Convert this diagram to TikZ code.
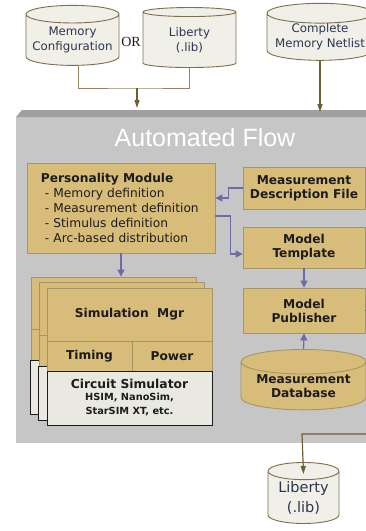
\documentclass[tikz,border=0pt]{standalone}
\usepackage{fontspec}
\setmainfont{DejaVu Sans}
\newfontfamily\titlefont{Liberation Sans}
\newfontfamily\orfont{Liberation Serif}
\usetikzlibrary{arrows.meta,positioning,calc,shapes.geometric}
\definecolor{cGrey}{HTML}{C6C6C6}
\definecolor{cBevel}{HTML}{A0A0A0}
\definecolor{cTan}{HTML}{D8BC7A}
\definecolor{cTanLine}{HTML}{A69568}
\definecolor{cCyl}{HTML}{F1F0E8}
\definecolor{cCylLine}{HTML}{7D6E4E}
\definecolor{cFlow}{HTML}{6B6BA8}
\definecolor{cFeed}{HTML}{6E5E34}
\definecolor{cBracket}{HTML}{948462}
\definecolor{cBase}{HTML}{E9E9E1}
\definecolor{cInk}{HTML}{1C1C1C}
\definecolor{cCylInk}{HTML}{2B3550}
\tikzset{
  flowarea/.style={rectangle,fill=cGrey,inner sep=0pt,minimum width=380,minimum height=326},
  cyl/.style={cylinder,shape border rotate=90,draw=cCylLine,fill=cCyl,line width=0.9pt,
              align=center,inner sep=0pt,text=cCylInk,font=\fontsize{11.8}{15}\selectfont},
  dbcyl/.style={cyl,fill=cTan,draw=cTanLine,text=cInk,font=\bfseries\fontsize{12.2}{14}\selectfont},
  tanbox/.style={rectangle,draw=cTanLine,fill=cTan,line width=0.8pt,align=center,inner sep=0pt,
                 text=cInk,font=\bfseries\fontsize{12.2}{14}\selectfont},
  basebox/.style={rectangle,draw=cInk,fill=cBase,line width=0.8pt,align=center,inner sep=0pt,text=cInk},
  layer/.style={tanbox,minimum width=165,minimum height=137},
  flowar/.style={-{Triangle[width=7pt,length=7pt]},draw=cFlow,line width=1.3pt},
  feedar/.style={-{Triangle[width=5pt,length=8pt]},draw=cFeed,line width=1.2pt},
  bracket/.style={draw=cBracket,line width=1pt},
}

\begin{document}
\begin{tikzpicture}[x=1pt,y=-1pt]
\useasboundingbox (0,0) rectangle (366,531);
\clip (0,0) rectangle (366,531);

% automated flow area
\node[flowarea,anchor=north west] (flow) at (16,117) {};
\fill[cBevel] (flow.north west) -- ++(6,-7) -- ($(flow.north east)+(0,-7)$) -- (flow.north east) -- cycle;
\node[text=white,font=\titlefont\fontsize{25}{28}\selectfont] (title) at (205,138) {Automated Flow};

% inputs
\node[cyl,minimum width=93,minimum height=60,aspect=0.22] (memcfg) at (72.5,40) {Memory\\Configuration};
\node[cyl,minimum width=93,minimum height=60,aspect=0.22] (libin) at (189.5,40) {Liberty\\(.lib)};
\node[text=cInk,font=\orfont\fontsize{14}{16}\selectfont] (or) at (131,42) {OR};
\node[cyl,minimum width=106,minimum height=57,aspect=0.22] (netlist) at (320,37) {Complete\\Memory Netlist};
\coordinate (orjoin) at (137,88);
\draw[bracket] ([xshift=5.5pt]memcfg.south) |- (orjoin) -| (libin.south);
\draw[feedar] (orjoin) -- ($(orjoin |- flow.north)+(0,-9)$);
\draw[feedar] (netlist.south) -- ($(netlist.south |- flow.north)+(0,-5)$);

% personality module and model boxes
\node[tanbox,minimum width=188,minimum height=90,text width=160,align=left,
      font=\fontsize{12.2}{15}\selectfont] (pers) at (121,208)
  {\textbf{Personality Module}\\
   \hspace*{4pt}- Memory definition\\
   \hspace*{4pt}- Measurement definition\\
   \hspace*{4pt}- Stimulus definition\\
   \hspace*{4pt}- Arc-based distribution};
\node[tanbox,minimum width=122,minimum height=42] (mdf) at (304,188) {Measurement\\Description File};
\node[tanbox,minimum width=122,minimum height=41] (tmpl) at (304,247.5) {Model\\Template};
\node[tanbox,minimum width=122,minimum height=45] (pub) at (304,310.5) {Model\\Publisher};
\node[dbcyl,minimum width=125,minimum height=58,aspect=0.26] (db) at (303.5,386) {Measurement\\Database};

% simulation stack
\foreach \dx/\dy/\nm in {16/11/stackc,8/5.5/stackb}{
  \node[layer] (\nm) at (129.5-\dx,356.5-\dy) {};
  \draw[cTanLine,line width=0.8pt] ($(\nm.north west)+(0,53)$) -- ++(165,0);
  \draw[draw=cInk,fill=cBase,line width=0.8pt] ($(\nm.south west)+(0,-54)$) rectangle (\nm.south east);
}
\node[tanbox,minimum width=165,minimum height=53] (simmgr) at (129.5,314.5) {Simulation\ \ Mgr};
\node[tanbox,minimum width=85,minimum height=30] (timing) at (89.5,356) {Timing};
\node[tanbox,minimum width=80,minimum height=30] (power) at (172,356) {Power};
\node[basebox,minimum width=165,minimum height=54,font=\bfseries\fontsize{12.3}{14}\selectfont] (circsim) at (129.5,398)
  {Circuit Simulator\\[-2pt]
   \fontsize{9.8}{11.5}\selectfont HSIM, NanoSim,\\
   \fontsize{9.8}{11.5}\selectfont StarSIM XT, etc.};

% liberty output
\node[cyl,minimum width=71,minimum height=61,aspect=0.34,font=\fontsize{14.5}{20}\selectfont] (libout) at (303.5,497.5) {Liberty\\(.lib)};

% flow connectors
\draw[flowar] (pers.south) -- (pers.south |- stackc.north);
\draw[flowar] (mdf.west) -- ++(-14,0) |- ([yshift=10pt]pers.east);
\draw[flowar] ([yshift=-8pt]pers.east) -- ++(15,0) |- ([yshift=-6.5pt]tmpl.west);
\draw[flowar] (tmpl.south) -- (pub.north);
\draw[flowar] (db.north) -- (pub.south);
\coordinate (libturn) at (302,434);
\draw[feedar] (pub.east) -- ++(20,0) |- (libturn) -- ($(libout.north)+(0,12)$);
\end{tikzpicture}
\end{document}
